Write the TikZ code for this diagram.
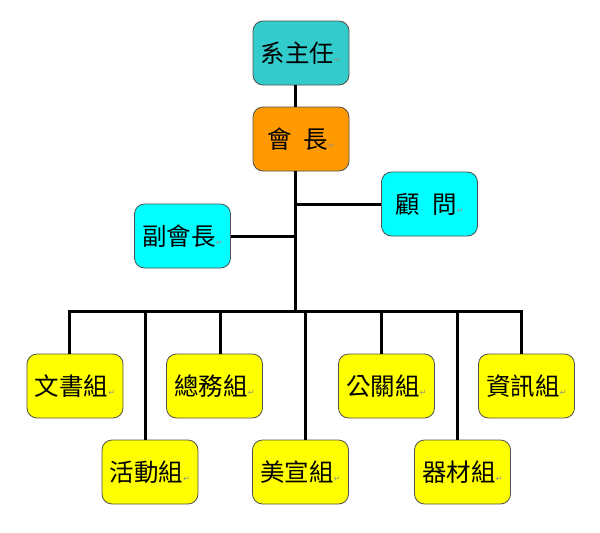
\documentclass[tikz,border=0pt]{standalone}
\usepackage{fontspec}
\setmainfont{Noto Sans CJK TC}
\newfontfamily\markfont{DejaVu Sans}
\definecolor{cteal}{HTML}{33CCCC}
\definecolor{corange}{HTML}{FF9900}
\definecolor{ccyan}{HTML}{00FFFF}
\definecolor{cyellow}{HTML}{FFFF00}
\definecolor{cborder}{HTML}{505050}
\definecolor{cmark}{HTML}{909090}
\newcommand{\pmark}{{\markfont\color{cmark}\fontsize{8}{8}\selectfont ↵}}
\tikzset{
  orgbox/.style={draw=cborder, line width=0.8pt, rounded corners=10pt,
    minimum width=96pt, minimum height=64pt, inner sep=0pt,
    font=\fontsize{24.5}{24.5}\selectfont},
  link/.style={line width=3pt, line join=miter, line cap=butt}
}
\begin{document}
\begin{tikzpicture}[x=1pt, y=-1pt]
\useasboundingbox (0,0) rectangle (600,533);
\node[orgbox, fill=cteal] (sys) at (301,53) {系主任\pmark};
\node[orgbox, fill=corange] (pres) at (301,139) {會\hspace{0.5em}長\pmark};
\node[orgbox, fill=ccyan] (adv) at (429.5,204) {顧\hspace{0.5em}問\pmark};
\node[orgbox, fill=ccyan] (vp) at (182.5,236) {副會長\pmark};
\node[orgbox, fill=cyellow] (wen) at (75,386) {文書組\pmark};
\node[orgbox, fill=cyellow] (zong) at (214.5,386) {總務組\pmark};
\node[orgbox, fill=cyellow] (gong) at (386.5,386) {公關組\pmark};
\node[orgbox, fill=cyellow] (zi) at (526.5,386) {資訊組\pmark};
\node[orgbox, fill=cyellow] (huo) at (150,472) {活動組\pmark};
\node[orgbox, fill=cyellow] (mei) at (300.5,472) {美宣組\pmark};
\node[orgbox, fill=cyellow] (qi) at (462.5,472) {器材組\pmark};
\coordinate (j1) at (295,204);
\coordinate (j2) at (295,236);
\coordinate (j3) at (295,311);
\coordinate (b1) at (69.5,311);
\coordinate (b2) at (145,311);
\coordinate (b3) at (220,311);
\coordinate (b4) at (305,311);
\coordinate (b5) at (381,311);
\coordinate (b6) at (457,311);
\coordinate (b7) at (521,311);
\draw[link] (sys.south -| j1) -- (pres.north -| j1);
\draw[link] (pres.south -| j1) -- (j3);
\draw[link] (j1) -- (adv.west);
\draw[link] (j2) -- (vp.east);
\draw[link] (wen.north -| b1) -- (b1) -- (b7) -- (zi.north -| b7);
\draw[link] (b2) -- (huo.north -| b2);
\draw[link] (b3) -- (zong.north -| b3);
\draw[link] (b4) -- (mei.north -| b4);
\draw[link] (b5) -- (gong.north -| b5);
\draw[link] (b6) -- (qi.north -| b6);
\end{tikzpicture}
\end{document}
